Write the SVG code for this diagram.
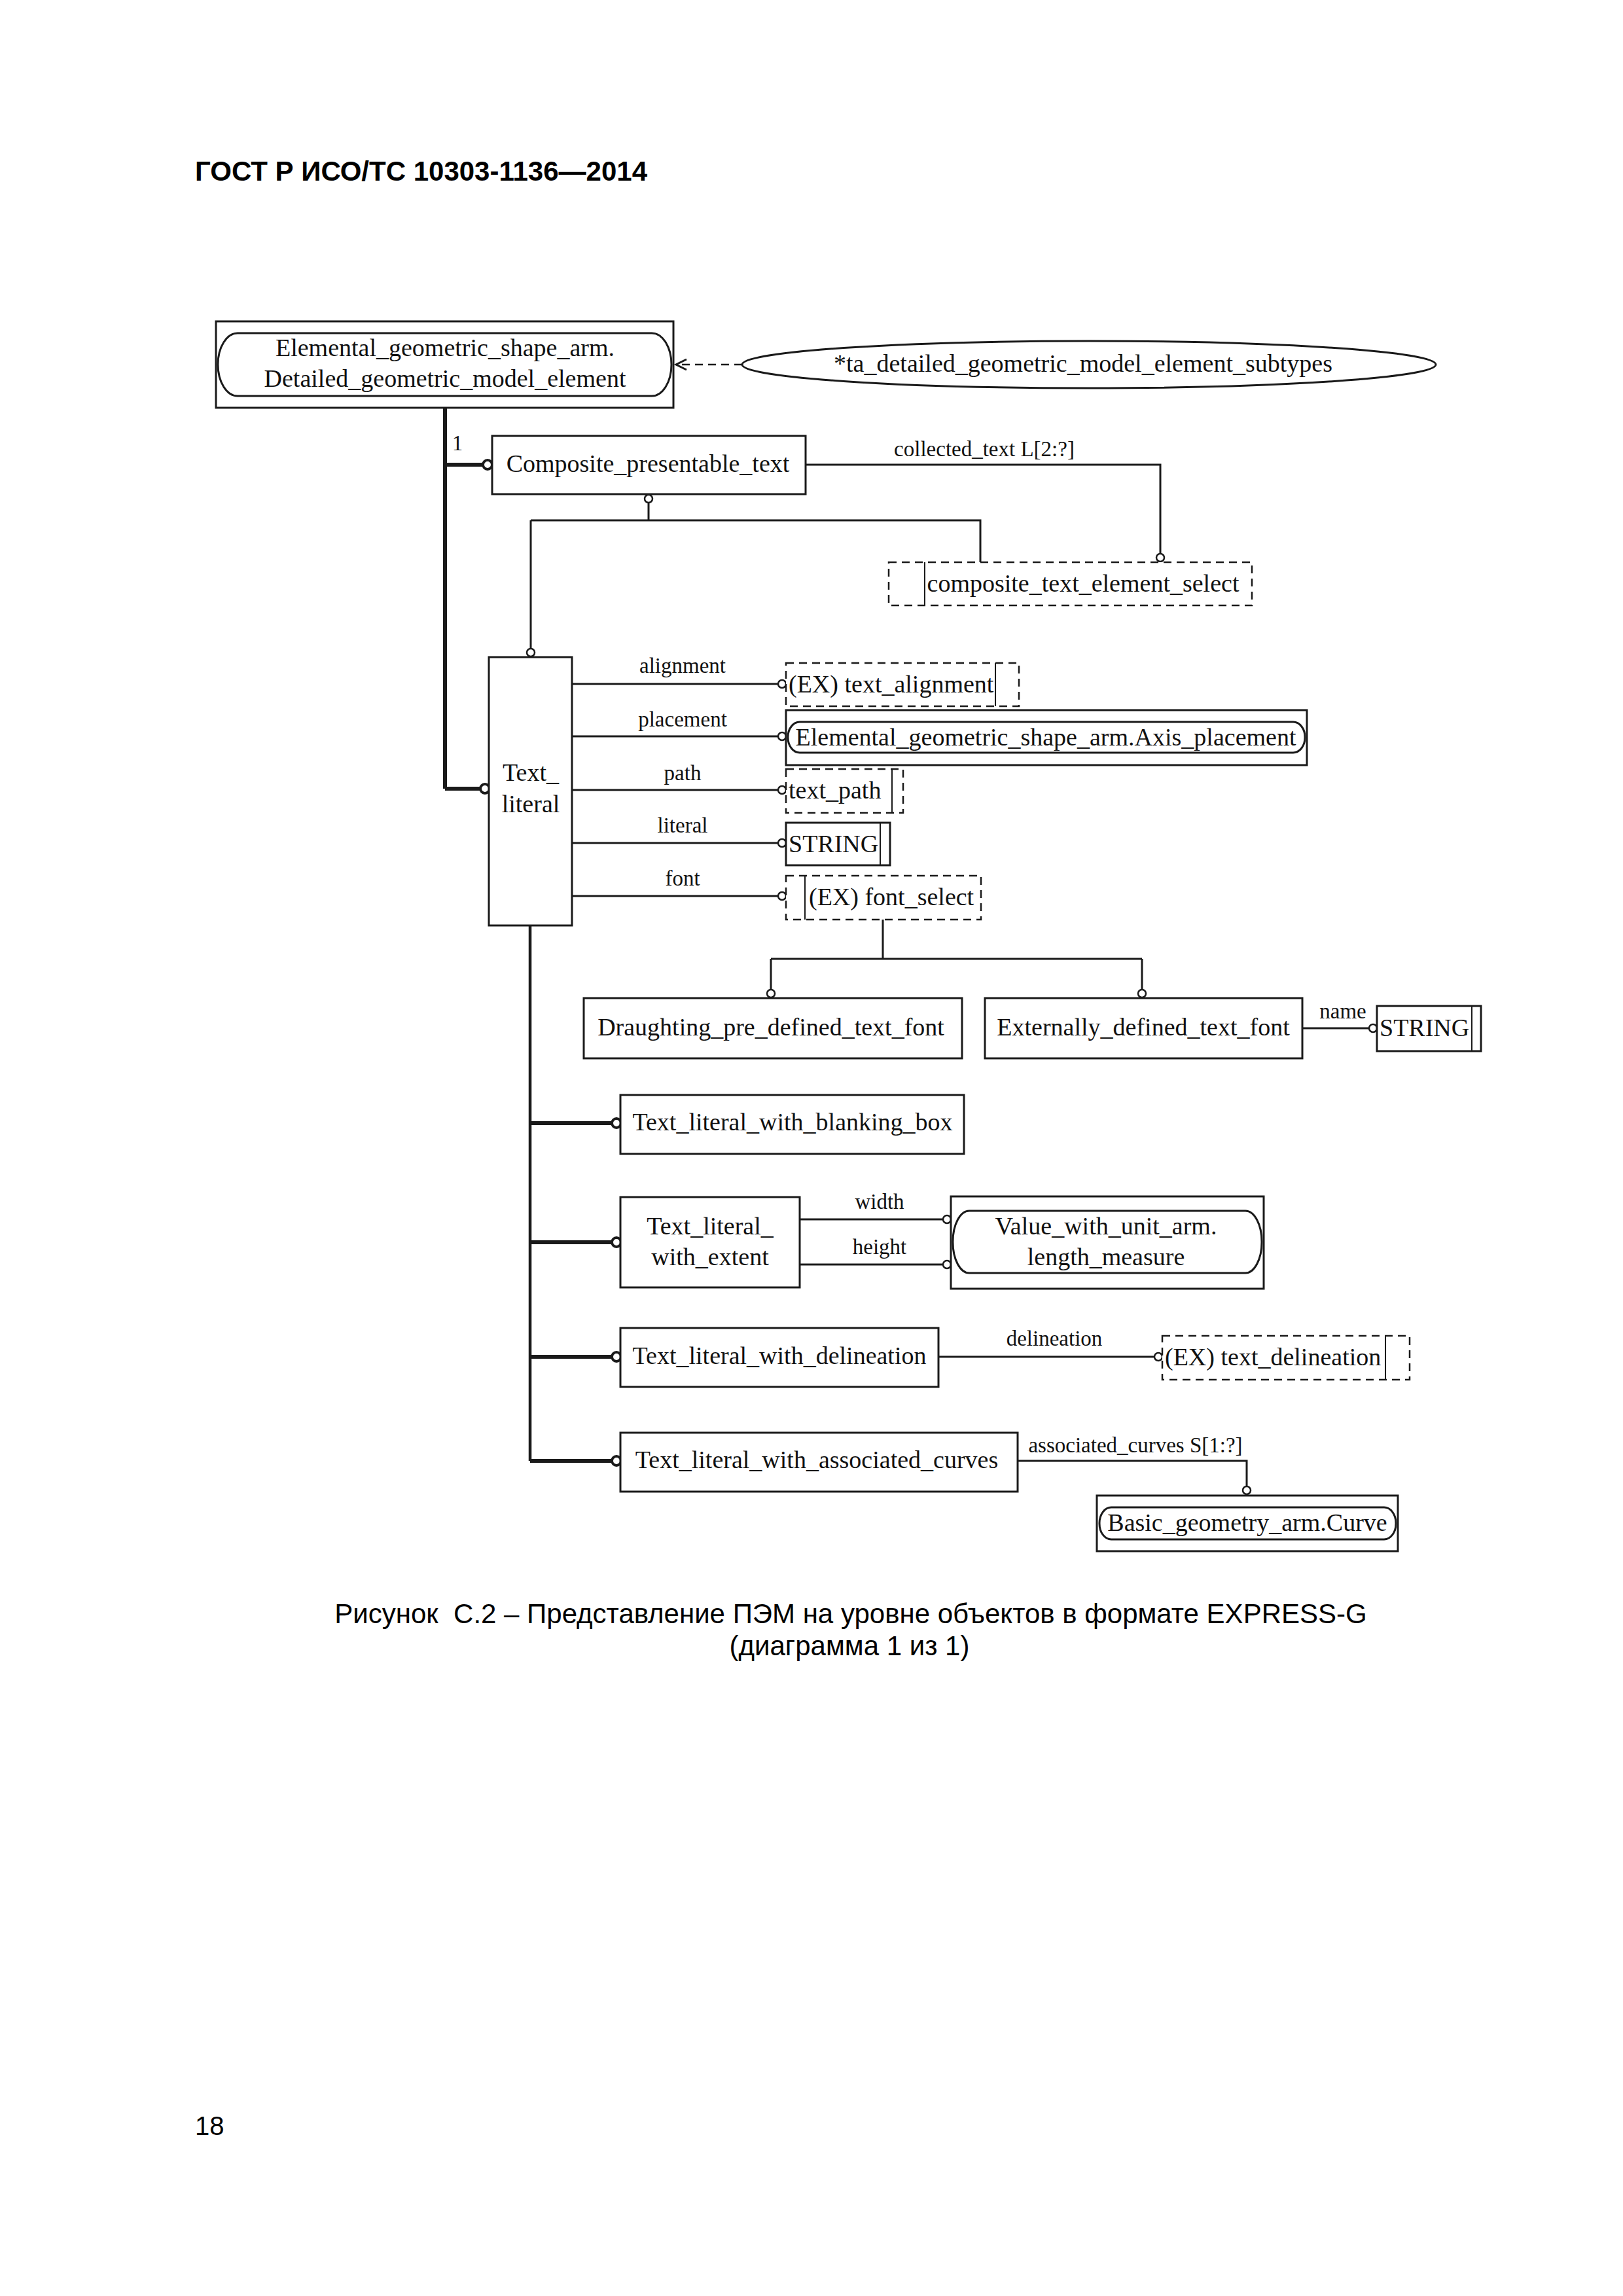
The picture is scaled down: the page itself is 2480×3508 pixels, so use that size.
<svg xmlns="http://www.w3.org/2000/svg" width="2480" height="3508" viewBox="0 0 2480 3508">
<style>
.bx{fill:#fff;stroke:#1a1a1a;stroke-width:3}
.in{fill:none;stroke:#1a1a1a;stroke-width:3}
.ds{fill:#fff;stroke:#1a1a1a;stroke-width:2.5;stroke-dasharray:12 8}
.il{stroke:#1a1a1a;stroke-width:2}
.ln{fill:none;stroke:#1a1a1a;stroke-width:3}
.tk{fill:none;stroke:#1a1a1a;stroke-width:6}
.md{fill:none;stroke:#1a1a1a;stroke-width:4.5}
.c{fill:#fff;stroke:#1a1a1a;stroke-width:2.5}
.ct{fill:#fff;stroke:#1a1a1a;stroke-width:4}
.t{font-family:"Liberation Serif","Times New Roman",serif;font-size:38px;fill:#111}
.m{text-anchor:middle}
.lb{font-family:"Liberation Serif","Times New Roman",serif;font-size:33px;fill:#111;text-anchor:middle}
.hd{font-family:"Liberation Sans",Arial,sans-serif;font-size:42px;font-weight:bold;fill:#000}
.cap{font-family:"Liberation Sans",Arial,sans-serif;font-size:42px;fill:#000;text-anchor:middle}
</style>
<rect width="2480" height="3508" fill="#fff"/>
<text class="hd" x="298" y="276">ГОСТ Р ИСО/ТС 10303-1136—2014</text>

<g id="connectors">
  <path class="tk" d="M680 623 V1205 M680 710 H738 M680 1205 H734"/>
  <circle class="ct" cx="745" cy="710" r="7"/>
  <circle class="ct" cx="741" cy="1205" r="7"/>
  <text class="lb" x="699" y="688">1</text>
  <line x1="1134" y1="557" x2="1036" y2="557" stroke="#1a1a1a" stroke-width="2.5" stroke-dasharray="12 8"/>
  <polyline class="ln" points="1049,549 1033,557 1049,565" stroke-width="2.5"/>
  <path class="ln" d="M1231 710 H1773 V846"/>
  <circle class="c" cx="1773" cy="852" r="6"/>
  <text class="lb" x="1504" y="697">collected_text L[2:?]</text>
  <circle class="c" cx="991" cy="762" r="6"/>
  <path class="ln" d="M991 768 V795 M811 795 H1498 V859 M811 795 V991"/>
  <circle class="c" cx="811" cy="997" r="6"/>
  <path class="ln" d="M874 1045 H1189 M874 1125 H1189 M874 1207 H1189 M874 1288 H1189 M874 1369 H1189"/>
  <circle class="c" cx="1195" cy="1045" r="6"/>
  <circle class="c" cx="1195" cy="1125" r="6"/>
  <circle class="c" cx="1195" cy="1207" r="6"/>
  <circle class="c" cx="1195" cy="1288" r="6"/>
  <circle class="c" cx="1195" cy="1369" r="6"/>
  <text class="lb" x="1043" y="1028">alignment</text>
  <text class="lb" x="1043" y="1110">placement</text>
  <text class="lb" x="1043" y="1192">path</text>
  <text class="lb" x="1043" y="1272">literal</text>
  <text class="lb" x="1043" y="1353">font</text>
  <path class="ln" d="M1349 1405 V1465 M1178 1465 H1745 M1178 1465 V1512 M1745 1465 V1512"/>
  <circle class="c" cx="1178" cy="1518" r="6"/>
  <circle class="c" cx="1745" cy="1518" r="6"/>
  <path class="ln" d="M1990 1571 H2092"/>
  <circle class="c" cx="2098" cy="1571" r="6"/>
  <text class="lb" x="2052" y="1556">name</text>
  <path class="md" d="M810 1414 V2232"/>
  <path class="tk" d="M810 1716 H935 M810 1898 H935 M810 2073 H935 M810 2232 H935"/>
  <circle class="ct" cx="942" cy="1716" r="7"/>
  <circle class="ct" cx="942" cy="1898" r="7"/>
  <circle class="ct" cx="942" cy="2073" r="7"/>
  <circle class="ct" cx="942" cy="2232" r="7"/>
  <path class="ln" d="M1222 1863 H1441 M1222 1932 H1441"/>
  <circle class="c" cx="1447" cy="1863" r="6"/>
  <circle class="c" cx="1447" cy="1932" r="6"/>
  <text class="lb" x="1344" y="1847">width</text>
  <text class="lb" x="1344" y="1916">height</text>
  <path class="ln" d="M1434 2073 H1764"/>
  <circle class="c" cx="1770" cy="2073" r="6"/>
  <text class="lb" x="1611" y="2056">delineation</text>
  <path class="ln" d="M1555 2232 H1905 V2271"/>
  <circle class="c" cx="1905" cy="2277" r="6"/>
  <text class="lb" x="1735" y="2219">associated_curves S[1:?]</text>
</g>

<g id="n_top">
  <rect class="bx" x="330" y="491" width="699" height="132"/>
  <rect class="in" x="333" y="509" width="693" height="96" rx="30" ry="48"/>
  <text class="t m" x="680" y="544">Elemental_geometric_shape_arm.</text>
  <text class="t m" x="680" y="591">Detailed_geometric_model_element</text>
</g>
<g id="n_subtypes">
  <ellipse class="bx" cx="1664" cy="557" rx="530" ry="36" stroke-width="2.5"/>
  <text class="t m" x="1655" y="568">*ta_detailed_geometric_model_element_subtypes</text>
</g>
<g id="n_composite">
  <rect class="bx" x="752" y="666" width="479" height="89"/>
  <text class="t m" x="990" y="721">Composite_presentable_text</text>
</g>
<g id="n_cts">
  <rect class="ds" x="1358" y="859" width="555" height="66"/>
  <line class="il" x1="1413" y1="859" x2="1413" y2="925"/>
  <text class="t m" x="1655" y="904">composite_text_element_select</text>
</g>
<g id="n_text_literal">
  <rect class="bx" x="747" y="1004" width="127" height="410"/>
  <text class="t m" x="811" y="1193">Text_</text>
  <text class="t m" x="811" y="1241">literal</text>
</g>
<g id="n_text_alignment">
  <rect class="ds" x="1201" y="1013" width="356" height="66"/>
  <line class="il" x1="1521" y1="1013" x2="1521" y2="1079"/>
  <text class="t" x="1205" y="1058">(EX) text_alignment</text>
</g>
<g id="n_axis_placement">
  <rect class="bx" x="1201" y="1085" width="796" height="84"/>
  <rect class="in" x="1204" y="1103" width="790" height="47" rx="18" ry="23"/>
  <text class="t m" x="1598" y="1139">Elemental_geometric_shape_arm.Axis_placement</text>
</g>
<g id="n_text_path">
  <rect class="ds" x="1201" y="1175" width="179" height="67"/>
  <line class="il" x1="1363" y1="1175" x2="1363" y2="1242"/>
  <text class="t" x="1205" y="1220">text_path</text>
</g>
<g id="n_string1">
  <rect class="bx" x="1201" y="1257" width="159" height="65"/>
  <line class="il" x1="1345" y1="1257" x2="1345" y2="1322"/>
  <text class="t" x="1205" y="1302">STRING</text>
</g>
<g id="n_font_select">
  <rect class="ds" x="1201" y="1338" width="298" height="67"/>
  <line class="il" x1="1230" y1="1338" x2="1230" y2="1405"/>
  <text class="t" x="1236" y="1383">(EX) font_select</text>
</g>
<g id="n_draughting">
  <rect class="bx" x="892" y="1525" width="578" height="92"/>
  <text class="t m" x="1178" y="1582">Draughting_pre_defined_text_font</text>
</g>
<g id="n_externally">
  <rect class="bx" x="1505" y="1525" width="485" height="92"/>
  <text class="t m" x="1747" y="1582">Externally_defined_text_font</text>
</g>
<g id="n_string2">
  <rect class="bx" x="2104" y="1537" width="159" height="69"/>
  <line class="il" x1="2249" y1="1537" x2="2249" y2="1606"/>
  <text class="t" x="2108" y="1583">STRING</text>
</g>
<g id="n_blanking">
  <rect class="bx" x="948" y="1673" width="525" height="90"/>
  <text class="t m" x="1211" y="1727">Text_literal_with_blanking_box</text>
</g>
<g id="n_extent">
  <rect class="bx" x="948" y="1829" width="274" height="138"/>
  <text class="t m" x="1085" y="1886">Text_literal_</text>
  <text class="t m" x="1085" y="1933">with_extent</text>
</g>
<g id="n_value">
  <rect class="bx" x="1453" y="1828" width="478" height="141"/>
  <rect class="in" x="1456" y="1850" width="472" height="95" rx="25" ry="47"/>
  <text class="t m" x="1690" y="1886">Value_with_unit_arm.</text>
  <text class="t m" x="1690" y="1933">length_measure</text>
</g>
<g id="n_delineation">
  <rect class="bx" x="948" y="2029" width="486" height="90"/>
  <text class="t m" x="1191" y="2084">Text_literal_with_delineation</text>
</g>
<g id="n_text_delineation">
  <rect class="ds" x="1776" y="2041" width="378" height="67"/>
  <line class="il" x1="2117" y1="2041" x2="2117" y2="2108"/>
  <text class="t" x="1780" y="2086">(EX) text_delineation</text>
</g>
<g id="n_assoc">
  <rect class="bx" x="948" y="2189" width="607" height="90"/>
  <text class="t m" x="1248" y="2243">Text_literal_with_associated_curves</text>
</g>
<g id="n_curve">
  <rect class="bx" x="1676" y="2285" width="460" height="85"/>
  <rect class="in" x="1680" y="2303" width="453" height="49" rx="18" ry="24"/>
  <text class="t m" x="1906" y="2339">Basic_geometry_arm.Curve</text>
</g>

<text class="cap" x="1300" y="2480">Рисунок&#160; С.2 – Представление ПЭМ на уровне объектов в формате EXPRESS-G</text>
<text class="cap" x="1298" y="2529">(диаграмма 1 из 1)</text>
<text font-family="Liberation Sans, Arial, sans-serif" font-size="40" x="298" y="3262">18</text>
</svg>
